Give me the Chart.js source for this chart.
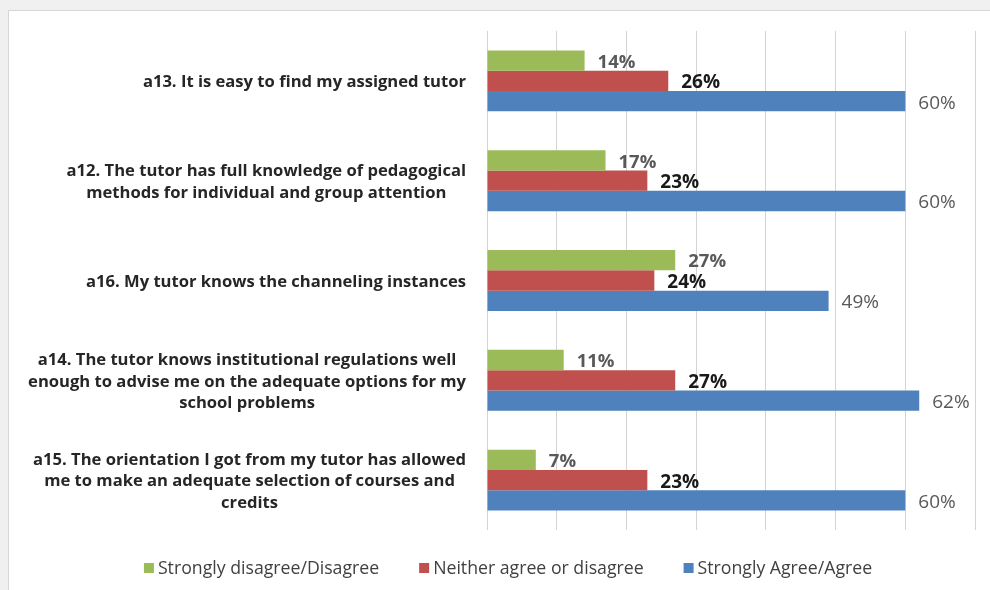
<!DOCTYPE html>
<html>
<head>
<meta charset="utf-8">
<script src="https://cdn.jsdelivr.net/npm/chart.js@4.4.1/dist/chart.umd.min.js"></script>
<style>
  html, body { margin: 0; padding: 0; background: #f0f0f0; width: 990px; height: 590px; overflow: hidden; }
  #box { position: absolute; left: 8px; top: 10px; width: 982px; height: 580px; background: #ffffff;
         border-left: 1px solid #d6d6d6; border-top: 1px solid #d6d6d6; box-sizing: border-box; }
  #wrap { position: absolute; left: 0; top: 0; width: 981px; height: 579px; }
</style>
</head>
<body>
<div id="box"><div id="wrap"><canvas id="c"></canvas></div></div>
<script>
const categories = [
  ["a13. It is easy to find my assigned tutor"],
  ["a12. The tutor has full knowledge of pedagogical", "methods for individual and group attention"],
  ["a16. My tutor knows the channeling instances"],
  ["a14. The tutor knows institutional regulations well", "enough to advise me on the adequate options for my", "school problems"],
  ["a15. The orientation I got from my tutor has allowed", "me to make an adequate selection of courses and", "credits"]
];
const seriesNames = ["Strongly disagree/Disagree", "Neither agree or disagree", "Strongly Agree/Agree"];
const disagreeValues = [14, 17, 27, 11, 7];
const neitherValues  = [26, 23, 24, 27, 23];
const agreeValues    = [60, 60, 49, 62, 60];
const xTicks = [0, 10, 20, 30, 40, 50, 60, 70];

const colors = ["#9bbb59", "#c0504d", "#4f81bd"];
const labelStyles = [
  { font: "bold 18.5px 'Open Sans'", color: "#595959" },
  { font: "bold 19px 'Open Sans'", color: "#1a1a1a" },
  { font: "19px 'Open Sans'", color: "#595959" }
];

const categoryLabelPlugin = {
  id: 'categoryLabels',
  afterDraw(chart) {
    const ctx = chart.ctx;
    const yScale = chart.scales.y;
    const right = chart.chartArea.left - 21;
    const lh = 21.8;
    ctx.save();
    ctx.font = "bold 16.6px 'Open Sans'";
    ctx.fillStyle = "#262626";
    ctx.textAlign = "center";
    ctx.textBaseline = "middle";
    chart.data.labels.forEach((lines, i) => {
      const y = yScale.getPixelForValue(i);
      let maxW = 0;
      lines.forEach(l => { maxW = Math.max(maxW, ctx.measureText(l).width); });
      const cx = right - maxW / 2;
      const y0 = y - (lines.length - 1) * lh / 2 + 1.5;
      lines.forEach((l, k) => ctx.fillText(l, cx, y0 + k * lh));
    });
    ctx.restore();
  }
};

const valueLabelPlugin = {
  id: 'valueLabels',
  afterDatasetsDraw(chart) {
    const ctx = chart.ctx;
    ctx.save();
    ctx.textAlign = "left";
    ctx.textBaseline = "middle";
    chart.data.datasets.forEach((ds, di) => {
      const meta = chart.getDatasetMeta(di);
      ctx.font = labelStyles[di].font;
      ctx.fillStyle = labelStyles[di].color;
      meta.data.forEach((bar, i) => {
        ctx.fillText(ds.data[i] + "%", bar.x + 13, bar.y + 2);
      });
    });
    ctx.restore();
  }
};

const legendPlugin = {
  id: 'customLegend',
  afterDraw(chart) {
    const ctx = chart.ctx;
    ctx.save();
    ctx.font = "17.7px 'Open Sans'";
    ctx.textBaseline = "middle";
    ctx.textAlign = "left";
    const box = 10, gapText = 4, gapItem = 40;
    const items = chart.data.datasets.map(ds => ({ text: ds.label, color: ds.backgroundColor, w: ctx.measureText(ds.label).width }));
    let total = 0;
    items.forEach((it, i) => { total += box + gapText + it.w + (i < items.length - 1 ? gapItem : 0); });
    let x = 499 - total / 2;
    const y = 557;
    items.forEach(it => {
      ctx.fillStyle = it.color;
      ctx.fillRect(x, y - box / 2, box, box);
      ctx.fillStyle = "#404040";
      ctx.fillText(it.text, x + box + gapText, y + 1);
      x += box + gapText + it.w + gapItem;
    });
    ctx.restore();
  }
};

new Chart(document.getElementById('c'), {
  type: 'bar',
  data: {
    labels: categories,
    datasets: [
      { label: seriesNames[0], data: disagreeValues, backgroundColor: colors[0] },
      { label: seriesNames[1], data: neitherValues, backgroundColor: colors[1] },
      { label: seriesNames[2], data: agreeValues, backgroundColor: colors[2] }
    ]
  },
  options: {
    indexAxis: 'y',
    responsive: true,
    maintainAspectRatio: false,
    animation: false,
    devicePixelRatio: 1,
    layout: { padding: { top: 20, right: 15, left: 0, bottom: 0 } },
    datasets: { bar: { categoryPercentage: 0.61, barPercentage: 1.0 } },
    plugins: {
      legend: { display: false },
      tooltip: { enabled: false }
    },
    scales: {
      x: {
        min: xTicks[0],
        max: xTicks[xTicks.length - 1],
        afterBuildTicks(scale) { scale.ticks = xTicks.map(v => ({ value: v })); },
        ticks: { display: false },
        grid: { color: '#d4d4d4', lineWidth: 1, drawTicks: false },
        border: { display: false },
        afterFit(scale) { scale.height = 60; }
      },
      y: {
        ticks: { display: false },
        grid: { display: false, drawTicks: false },
        border: { display: false },
        afterFit(scale) { scale.width = 478; }
      }
    }
  },
  plugins: [categoryLabelPlugin, valueLabelPlugin, legendPlugin]
});
</script>
</body>
</html>
